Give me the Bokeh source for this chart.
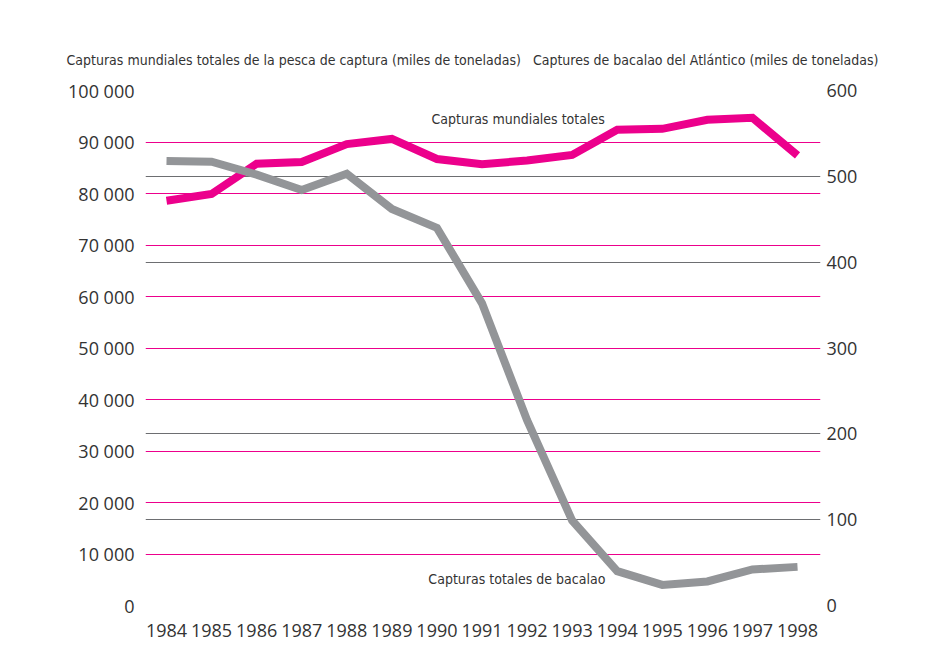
from bokeh.plotting import figure
from bokeh.models import Range1d, LinearAxis, FixedTicker, Grid, Label, Title, CustomJSTickFormatter
from bokeh.embed import file_html
from bokeh.resources import INLINE

years = list(range(1984, 1999))
world_catch = [78600, 79900, 85800, 86100, 89600, 90600, 86700, 85700,
               86400, 87500, 92400, 92550, 94300, 94700, 87400]
cod_catch = [518, 517, 502, 484, 503, 462, 440, 352,
             216, 99, 40, 24, 28, 42, 45]
left_ticks = [0, 10000, 20000, 30000, 40000, 50000, 60000, 70000, 80000, 90000, 100000]
right_ticks = [0, 100, 200, 300, 400, 500, 600]
right_grid_ticks = [100, 200, 400, 500]

left_title = "Capturas mundiales totales de la pesca de captura (miles de toneladas)"
right_title = "Captures de bacalao del Atlántico (miles de toneladas)"
world_label = "Capturas mundiales totales"
cod_label = "Capturas totales de bacalao"

PINK = "#EC008C"
GRAY = "#939598"
DARK = "#6d6e71"
TXT = "#333333"
TICK_FONT = "Open Sans"
TITLE_FONT = "DejaVu Sans Condensed"

W, H = 943, 661
FL = 145   # frame left in page pixels
p = figure(width=W, height=H, output_backend="svg", toolbar_location=None,
           x_range=Range1d(1983.534, 1998.51), y_range=Range1d(0, 100000),
           min_border_left=145, min_border_right=123, min_border_top=90, min_border_bottom=56)
p.extra_y_ranges = {"cod": Range1d(0, 600)}
p.outline_line_color = None
p.background_fill_color = "white"
p.border_fill_color = "white"

# combined axis titles
p.title = Title(text=left_title + "\u00a0\u00a0\u00a0" + right_title, align="left",
                offset=66 - FL, standoff=46, text_font=TITLE_FONT, text_font_size="14px",
                text_font_style="normal", text_color=TXT)

# left axis
ya = p.yaxis[0]
ya.ticker = FixedTicker(ticks=left_ticks)
ya.formatter = CustomJSTickFormatter(code="return tick == 0 ? '0' : (tick/1000).toFixed(0) + ' 000';")
ya.axis_line_color = None
ya.major_tick_line_color = None
ya.minor_tick_line_color = None
ya.major_label_text_font = TICK_FONT
ya.major_label_text_font_size = "18px"
ya.major_label_text_color = TXT
ya.major_label_standoff = 5

# right axis
ra = LinearAxis(y_range_name="cod", ticker=FixedTicker(ticks=right_ticks))
ra.axis_line_color = None
ra.major_tick_line_color = None
ra.minor_tick_line_color = None
ra.major_label_text_font = TICK_FONT
ra.major_label_text_font_size = "18px"
ra.major_label_text_color = TXT
ra.major_label_standoff = 0
p.add_layout(ra, "right")

# x axis
xa = p.xaxis[0]
xa.ticker = FixedTicker(ticks=years)
xa.axis_line_color = None
xa.major_tick_line_color = None
xa.minor_tick_line_color = None
xa.major_label_text_font = TICK_FONT
xa.major_label_text_font_size = "18px"
xa.major_label_text_color = TXT
xa.major_label_standoff = 12

p.xgrid.grid_line_color = None
p.ygrid.ticker = FixedTicker(ticks=left_ticks)
p.ygrid.grid_line_color = PINK
p.ygrid.grid_line_width = 1

g2 = Grid(dimension=1, ticker=FixedTicker(ticks=right_grid_ticks), y_range_name="cod",
          grid_line_color=DARK, grid_line_width=1)
p.add_layout(g2)

p.line(years, world_catch, line_color=PINK, line_width=8, line_join="miter")
p.line(years, cod_catch, line_color=GRAY, line_width=8, line_join="miter", y_range_name="cod")

p.add_layout(Label(x=1989.88, y=94560, text=world_label, text_font=TITLE_FONT,
                   text_font_size="14px", text_color=TXT, text_baseline="middle"))
p.add_layout(Label(x=1989.81, y=5240, text=cod_label, text_font=TITLE_FONT,
                   text_font_size="14px", text_color=TXT, text_baseline="middle"))

open("out.html", "w").write(file_html(p, INLINE))
